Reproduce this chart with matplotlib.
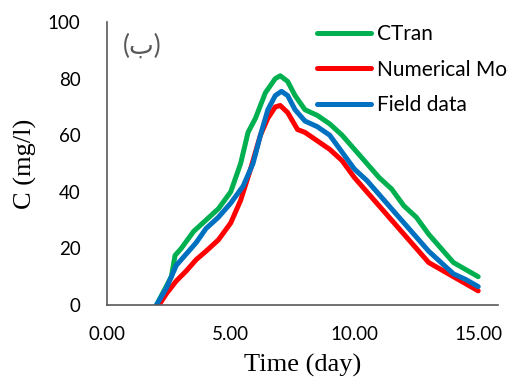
import matplotlib
matplotlib.use("Agg")
import matplotlib.pyplot as plt

# ---- data ----
t_ctran = [2.0, 2.3, 2.6, 2.75, 3.0, 3.5, 4.0, 4.5, 5.0, 5.4, 5.7, 6.0, 6.4, 6.8, 7.0, 7.3, 7.6, 8.0, 8.5, 9.0, 9.5, 10.0, 10.5, 11.0, 11.5, 12.0, 12.5, 13.0, 13.5, 14.0, 14.5, 15.0]
c_ctran = [0, 5, 10, 17.5, 20, 26, 30, 34, 40, 50, 61, 66, 75, 80, 81, 79, 74, 69, 67, 64, 60, 55, 50, 45, 41, 35, 31, 25, 20, 15, 12.5, 10]

t_field = [2.0, 2.4, 2.8, 3.2, 3.6, 4.0, 4.5, 5.0, 5.5, 5.9, 6.2, 6.5, 6.8, 7.05, 7.3, 7.6, 8.0, 8.5, 9.0, 9.5, 10.0, 10.5, 11.0, 11.5, 12.0, 12.5, 13.0, 13.5, 14.0, 14.5, 15.0]
c_field = [0, 6, 14, 18, 22, 27, 31, 36, 42, 50, 60, 69, 74, 75.5, 74, 69, 65, 63, 60, 54, 48, 44, 39, 34, 29, 24, 19, 15, 11, 9, 6.5]

t_num = [2.1, 2.4, 2.8, 3.2, 3.6, 4.0, 4.5, 5.0, 5.4, 5.8, 6.2, 6.5, 6.8, 7.0, 7.3, 7.7, 8.0, 8.5, 9.0, 9.5, 10.0, 10.5, 11.0, 11.5, 12.0, 12.5, 13.0, 13.5, 14.0, 14.5, 15.0]
c_num = [0, 4, 8.5, 12, 16, 19, 23, 29, 37, 48, 60, 66, 70, 70.5, 68, 62, 61, 58, 55, 51, 45, 40, 35, 30, 25, 20, 15, 12.5, 10, 7.5, 5]

series_labels = ["CTran", "Numerical Model", "Field data"]
x_ticks = [0, 5, 10, 15]
x_tick_labels = ["0.00", "5.00", "10.00", "15.00"]
y_ticks = [0, 20, 40, 60, 80, 100]

# ---- figure ----
fig = plt.figure(figsize=(5.08, 3.78), dpi=100)
ax = fig.add_axes([107/508, 1-305/378, (498-107)/508, (305-22)/378])

lw = 3.6
l1, = ax.plot(t_ctran, c_ctran, color="#00B050", lw=lw, solid_capstyle="round", solid_joinstyle="round")
l2, = ax.plot(t_num, c_num, color="#FF0000", lw=lw, solid_capstyle="round", solid_joinstyle="round")
l3, = ax.plot(t_field, c_field, color="#0070C0", lw=lw, solid_capstyle="round", solid_joinstyle="round")

ax.set_xlim(0, 15.8)
ax.set_ylim(0, 100)
ax.set_xticks(x_ticks)
ax.set_xticklabels(x_tick_labels)
ax.set_yticks(y_ticks)

for lab in ax.get_xticklabels() + ax.get_yticklabels():
    lab.set_fontfamily(["Lato", "DejaVu Sans"])
    lab.set_fontsize(13.5)
ax.tick_params(axis="x", length=0, pad=15, colors="#000000")
ax.tick_params(axis="y", length=0, pad=19, colors="#000000")

for s in ["top", "right"]:
    ax.spines[s].set_visible(False)
for s in ["left", "bottom"]:
    ax.spines[s].set_color("#595959")
    ax.spines[s].set_linewidth(1.2)

ax.set_xlabel("Time (day)", family="Liberation Serif", size=19, labelpad=8)
ax.set_ylabel("C (mg/l)", family="Liberation Serif", size=19, labelpad=8)

ax.text(0.04, 0.915, "(ب)", transform=ax.transAxes, color="#595959",
        family=["Lato", "DejaVu Sans"], size=19, ha="left", va="center")

leg = fig.legend([l1, l2, l3], series_labels, loc="upper left",
                 bbox_to_anchor=(317/508, 1-24/378), frameon=False,
                 prop={"family": ["Lato", "DejaVu Sans"], "size": 15},
                 handlelength=2.6, handletextpad=0.3, labelspacing=0.75,
                 borderpad=0, borderaxespad=0)

fig.savefig("out.png", dpi=100)
